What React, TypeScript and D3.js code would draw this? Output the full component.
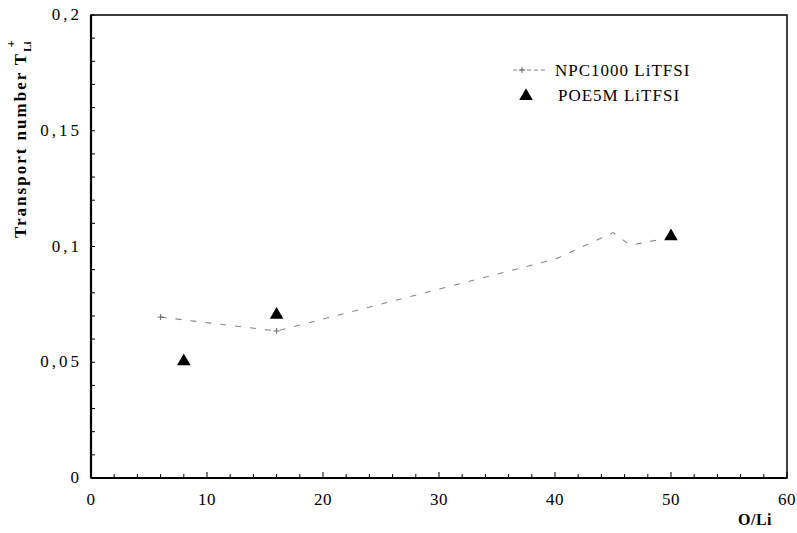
import React from 'react'
import * as d3 from 'd3'

const width = 797
const height = 533
const margin = { top: 15, right: 10, bottom: 55, left: 91 }

// NPC1000 LiTFSI (dashed curve)
const npcRatio = [6, 16, 40, 45, 46.5, 50]
const npcT = [0.0695, 0.0635, 0.0945, 0.106, 0.1005, 0.104]
// POE5M LiTFSI (triangles)
const poeRatio = [8, 16, 50]
const poeT = [0.05, 0.07, 0.104]

const xTicks = [0, 10, 20, 30, 40, 50, 60]
const yTicks = [0, 0.05, 0.1, 0.15, 0.2]
const yTickLabels = ['0', '0,05', '0,1', '0,15', '0,2']

const serif = '"Liberation Serif", "DejaVu Serif", serif'

function App() {
  const x = d3.scaleLinear().domain([0, 60]).range([margin.left, width - margin.right])
  const y = d3.scaleLinear().domain([0, 0.2]).range([height - margin.bottom, margin.top])

  const line = d3.line<number>()
    .x((d) => x(d))
    .y((_, i) => y(npcT[i]))

  const tri = d3.symbol().type(d3.symbolTriangle).size(80)()

  const xMinor = d3.range(0, 61, 2)
  const yMinor = d3.range(0, 0.2001, 0.01)

  return (
    <svg width={width} height={height} style={{ position: 'absolute', left: 0, top: 0, background: '#fff' }}
      fontFamily={serif}>
      {/* frame */}
      <rect x={x(0)} y={y(0.2)} width={x(60) - x(0)} height={y(0) - y(0.2)}
        fill="none" stroke="#000" strokeWidth={1.5} />
      <line x1={x(0)} x2={x(0)} y1={y(0.2)} y2={y(0)} stroke="#000" strokeWidth={2.2} />
      <line x1={x(0)} x2={x(60)} y1={y(0)} y2={y(0)} stroke="#000" strokeWidth={2} />

      {/* ticks */}
      {xMinor.map((t) => (
        <line key={'xt' + t} x1={x(t)} x2={x(t)} y1={y(0)} y2={y(0) - (t % 10 === 0 ? 6 : 4)}
          stroke="#000" strokeWidth={1} />
      ))}
      {yMinor.map((t) => (
        <line key={'yt' + t} x1={x(0)} x2={x(0) + 4} y1={y(t)} y2={y(t)} stroke="#000" strokeWidth={1} />
      ))}

      {/* tick labels */}
      {xTicks.map((t) => (
        <text key={'xl' + t} x={x(t)} y={505} textAnchor="middle" fontSize={17} letterSpacing={0.5}>{t}</text>
      ))}
      {yTicks.map((t, i) => (
        <text key={'yl' + t} x={82} y={y(t) + 5} textAnchor="end" fontSize={17} letterSpacing={3}>
          {yTickLabels[i]}
        </text>
      ))}

      {/* axis titles */}
      <text x={738} y={525} fontSize={16} fontWeight="bold" letterSpacing={0.5}>O/Li</text>
      <text transform={`translate(26,238) rotate(-90)`} fontSize={17} fontWeight="bold" letterSpacing={2}>
        Transport number T
        <tspan fontSize={11} dy={5} letterSpacing={0}>Li</tspan>
        <tspan fontSize={13} dy={-16} dx={-6}>+</tspan>
      </text>

      {/* NPC1000 curve */}
      <path d={line(npcRatio) || ''} fill="none" stroke="#888" strokeWidth={1.1} strokeDasharray="6 9" />
      {npcRatio.filter((_, i) => i < 2).map((r, i) => (
        <g key={'pm' + r} transform={`translate(${x(r)},${y(npcT[i])})`} stroke="#666" strokeWidth={1}>
          <line x1={-3} x2={3} y1={0} y2={0} />
          <line x1={0} x2={0} y1={-3} y2={3} />
        </g>
      ))}

      {/* POE5M triangles */}
      {poeRatio.map((r, i) => (
        <path key={'tr' + r} d={tri || ''} transform={`translate(${x(r)},${y(poeT[i]) - 1})`} fill="#000" />
      ))}

      {/* legend */}
      <g>
        <line x1={513} x2={545} y1={70} y2={70} stroke="#888" strokeWidth={1.1} strokeDasharray="4 3" />
        <g transform="translate(522,70)" stroke="#666" strokeWidth={1}>
          <line x1={-3} x2={3} y1={0} y2={0} />
          <line x1={0} x2={0} y1={-3} y2={3} />
        </g>
        <text x={555} y={76} fontSize={17} letterSpacing={1}>NPC1000 LiTFSI</text>
        <path d={tri || ''} transform="translate(526,96)" fill="#000" />
        <text x={558} y={101} fontSize={17} letterSpacing={1}>POE5M LiTFSI</text>
      </g>
    </svg>
  )
}

export default App
